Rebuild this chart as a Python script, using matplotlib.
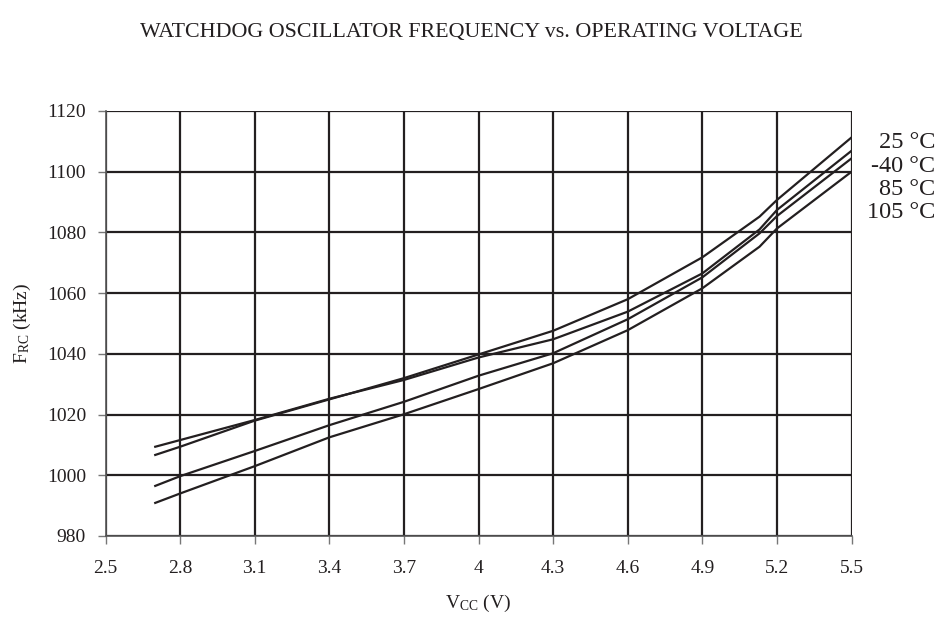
import matplotlib
matplotlib.use("Agg")
import matplotlib.pyplot as plt

plt.rcParams['font.family'] = ['Liberation Serif', 'DejaVu Serif']
plt.rcParams['mathtext.fontset'] = 'custom'
plt.rcParams['mathtext.rm'] = 'Liberation Serif'
plt.rcParams['mathtext.it'] = 'Liberation Serif:italic'

# supply voltage (V)
vcc = [2.7, 2.8, 3.1, 3.4, 3.7, 4.0, 4.3, 4.6, 4.9, 5.13, 5.2, 5.5]

# watchdog frequency (kHz) per temperature
f_25 = [1006.7, 1009.4, 1018.0, 1025.0, 1032.0, 1039.8, 1047.6, 1058.0, 1071.8, 1085.2, 1090.7, 1111.3]
f_m40 = [1009.4, 1011.6, 1018.2, 1025.2, 1031.4, 1038.8, 1044.8, 1053.9, 1066.5, 1081.0, 1087.4, 1106.9]
f_85 = [996.5, 999.7, 1008.0, 1016.5, 1024.2, 1032.8, 1040.2, 1051.4, 1065.2, 1079.7, 1085.4, 1104.4]
f_105 = [990.9, 994.0, 1003.0, 1012.5, 1020.1, 1028.4, 1036.9, 1047.8, 1061.6, 1075.3, 1081.3, 1100.0]

labels = ['25 °C', '-40 °C', '85 °C', '105 °C']
xticks = [2.5, 2.8, 3.1, 3.4, 3.7, 4, 4.3, 4.6, 4.9, 5.2, 5.5]
yticks = [980, 1000, 1020, 1040, 1060, 1080, 1100, 1120]

ink = '#231f20'

fig = plt.figure(figsize=(9.42, 6.18), dpi=100)
ax = fig.add_axes([0.112, 0.1327, 0.792, 0.6877])

for f in (f_25, f_m40, f_85, f_105):
    ax.plot(vcc, f, color=ink, lw=1.6, solid_joinstyle='round')

ax.set_xlim(2.5, 5.5)
ax.set_ylim(980, 1120)
ax.set_xticks(xticks)
ax.set_xticklabels([str(t) for t in xticks])
ax.set_yticks(yticks)
ax.grid(True, color=ink, lw=1.6)
ax.set_axisbelow(True)
for side in ('top', 'right'):
    ax.spines[side].set_visible(False)
for side in ('left', 'bottom'):
    ax.spines[side].set_color('#555555')
    ax.spines[side].set_linewidth(1.2)
ax.tick_params(direction='out', length=6, width=1, color='#777777',
               labelsize=14, labelcolor=ink)
ax.tick_params(axis='x', pad=11)
ax.tick_params(axis='y', pad=8)

ax.set_xlabel(r'V$_{\mathrm{CC}}$ (V)', fontsize=14, color=ink, labelpad=12)
ax.set_ylabel(r'F$_{\mathrm{RC}}$ (kHz)', fontsize=14, color=ink, labelpad=10)

fig.text(0.5, 0.947, 'WATCHDOG OSCILLATOR FREQUENCY vs. OPERATING VOLTAGE',
         ha='center', va='center', fontsize=15.8, color=ink)

for i, lab in enumerate(labels):
    fig.text(935 / 942, 1 - (143 + 23.3 * i) / 618, lab, ha='right', va='center',
             fontsize=17.5, color=ink)

fig.savefig('out.png', dpi=100)
